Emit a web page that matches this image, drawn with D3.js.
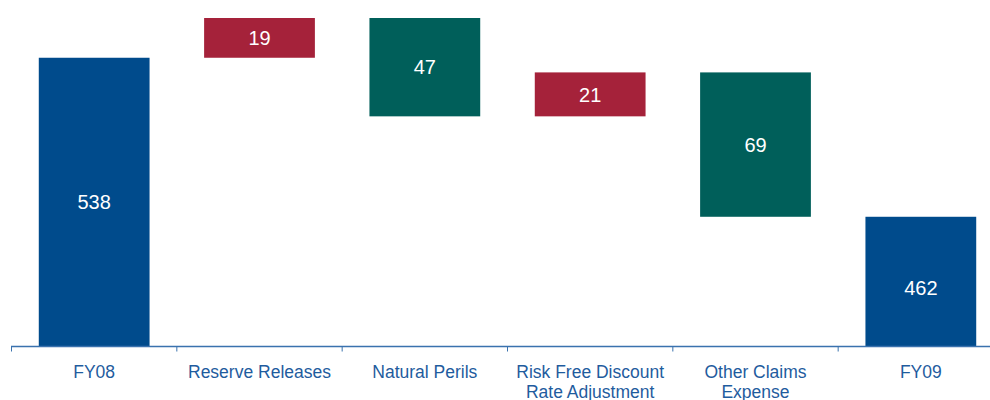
<!DOCTYPE html>
<html>
<head>
<meta charset="utf-8">
<script src="https://cdn.jsdelivr.net/npm/d3@7"></script>
<style>
  html, body { margin: 0; padding: 0; background: #fff; }
  svg { display: block; }
</style>
</head>
<body>
<svg id="chart" width="990" height="400"></svg>
<script>
// ---- data ----
const categories = ["FY08", "Reserve Releases", "Natural Perils", "Risk Free Discount|Rate Adjustment", "Other Claims|Expense", "FY09"];
const values = [538, 19, -47, 21, -69, 462];
const kinds = ["total", "up", "down", "up", "down", "total"];

// ---- build waterfall segments ----
let running = 0;
const segs = categories.map((c, i) => {
  let y0, y1;
  if (kinds[i] === "total") { y0 = 0; y1 = values[i]; running = values[i]; }
  else { y0 = running; y1 = running + values[i]; running = y1; }
  return { cat: c, v: values[i], kind: kinds[i], lo: Math.min(y0, y1), hi: Math.max(y0, y1), i };
});

const svg = d3.select("#chart");
const axisY = 346.5;
const x = d3.scaleBand().domain(categories).range([11.5, 1003.5]).paddingInner(0.33).paddingOuter(0.165);
const y = d3.scaleLinear().domain([400, 557]).range([axisY, 18]);

const colors = { total: "#004B8C", up: "#A5223A", down: "#005F5A" };

const g = svg.append("g");
g.selectAll("rect.bar").data(segs).join("rect")
  .attr("class", "bar")
  .attr("x", d => x(d.cat))
  .attr("width", x.bandwidth())
  .attr("y", d => y(d.hi))
  .attr("height", d => y(Math.max(d.lo, 400)) - y(d.hi))
  .attr("fill", d => colors[d.kind]);

g.selectAll("text.val").data(segs).join("text")
  .attr("class", "val")
  .attr("x", d => x(d.cat) + x.bandwidth() / 2)
  .attr("y", d => (y(d.hi) + y(Math.max(d.lo, 400))) / 2 + (d.i === segs.length - 1 ? 6.5 : 0))
  .attr("dy", "0.36em")
  .attr("text-anchor", "middle")
  .attr("fill", "#fff")
  .style("font-family", "'Liberation Sans', Arial, sans-serif")
  .style("font-size", "20px")
  .text(d => Math.abs(d.v));

// ---- axis ----
const axisColor = "#3A72AE";
const ax = svg.append("g").attr("transform", `translate(0,${axisY})`);
ax.append("line").attr("x1", 11).attr("x2", 1003).attr("y1", 0).attr("y2", 0)
  .attr("stroke", axisColor).attr("stroke-width", 1.5);
const step = x.step();
const tickXs = d3.range(categories.length + 1).map(i => 11.5 + i * (992 / categories.length));
ax.selectAll("line.tick").data(tickXs).join("line")
  .attr("class", "tick")
  .attr("x1", d => d).attr("x2", d => d).attr("y1", 0).attr("y2", 5)
  .attr("stroke", axisColor).attr("stroke-width", 1);

const labels = svg.append("g");
labels.selectAll("text.cat").data(segs).join("text")
  .attr("class", "cat")
  .attr("x", d => x(d.cat) + x.bandwidth() / 2)
  .attr("y", 378)
  .attr("text-anchor", "middle")
  .attr("fill", "#1F5C9E")
  .style("font-family", "'Liberation Sans', Arial, sans-serif")
  .style("font-size", "17.5px")
  .each(function(d) {
    const parts = d.cat.split("|");
    d3.select(this).selectAll("tspan").data(parts).join("tspan")
      .attr("x", x(d.cat) + x.bandwidth() / 2)
      .attr("dy", (p, j) => j === 0 ? 0 : 20)
      .text(p => p);
  });
</script>
</body>
</html>
